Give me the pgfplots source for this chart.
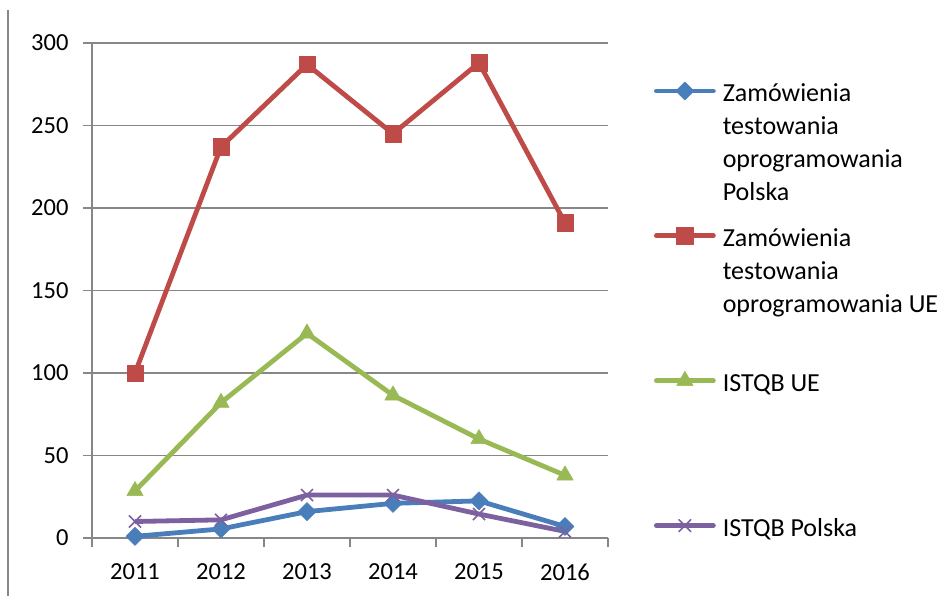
\documentclass[border=0pt]{standalone}
\usepackage{fontspec}
\setmainfont{Carlito}
\usepackage{pgfplots}
\pgfplotsset{compat=1.18}
\definecolor{cblue}{HTML}{4A7EBB}
\definecolor{cred}{HTML}{BE4B48}
\definecolor{cgreen}{HTML}{98B954}
\definecolor{cpurple}{HTML}{7D60A0}
\definecolor{cgrid}{HTML}{878787}
\newcommand{\lgtext}[1]{\parbox[t]{260bp}{\fontsize{26bp}{32.7bp}\selectfont\raggedright\strut #1}}
\begin{document}
\begin{tikzpicture}
\useasboundingbox (0,0) rectangle (949bp,596bp);
\draw[cgrid, line width=1.5bp] (8bp,0) -- (8bp,586bp);
\begin{axis}[
  at={(92bp,58bp)}, anchor=south west,
  scale only axis, width=516bp, height=495bp,
  xmin=-0.5, xmax=5.5, ymin=0, ymax=300,
  clip=false,
  axis lines*=left,
  axis line style={cgrid, line width=1.5bp},
  xtick={0,...,5}, xticklabels={2011,2012,2013,2014,2015,2016},
  minor xtick={-0.5,0.5,...,5.5},
  ytick={0,50,...,300},
  ymajorgrids,
  grid style={cgrid, line width=1.5bp},
  tick align=outside,
  major tick length=9bp, minor tick length=9bp,
  major x tick style={draw=none},
  minor x tick style={cgrid, line width=1.5bp},
  major y tick style={cgrid, line width=1.5bp},
  /pgf/number format/assume math mode=true,
  tick label style={font=\fontsize{24.5bp}{29bp}\selectfont, text=black},
  yticklabel style={xshift=-11bp},
  xticklabel style={yshift=-13bp},
  every axis plot/.append style={line width=4.8bp, line join=round},
  legend image code/.code={%
    \path[draw=none, fill=none] (0bp,23bp) -- (0bp,-120bp);
    \draw[mark repeat=2,mark phase=2,line cap=round,#1] plot coordinates {(0bp,11bp) (28.5bp,11bp) (57bp,11bp)};},
  legend style={at={(rel axis cs:1.0891,0.9311)}, anchor=north west, draw=none, fill=none,
    inner sep=0pt, outer sep=0pt, row sep=0pt, column sep=5bp,
    cells={anchor=base west, inner sep=0pt}},
]
\addplot[cblue, mark=square*, mark size=6.4bp, mark options={rotate=45, fill=cblue, line width=0.5bp}]
  coordinates {(0,1) (1,5.5) (2,16) (3,21) (4,22.5) (5,7)};
\addlegendentry{\lgtext{Zamówienia\\testowania\\oprogramowania\\Polska}}
\addplot[cred, mark=square*, mark size=8.2bp, mark options={fill=cred, line width=0.5bp}]
  coordinates {(0,100) (1,237) (2,287) (3,245) (4,288) (5,191)};
\addlegendentry{\lgtext{Zamówienia\\testowania\\oprogramowania UE}}
\addplot[cgreen, mark=triangle*, mark size=9.5bp, mark options={fill=cgreen, line width=0.5bp}]
  coordinates {(0,28.5) (1,82) (2,124) (3,86.5) (4,60) (5,38)};
\addlegendentry{\lgtext{ISTQB UE}}
\addplot[cpurple, mark=x, mark size=8.5bp, mark options={line width=1.6bp}]
  coordinates {(0,10) (1,11) (2,26) (3,26) (4,14.5) (5,4)};
\addlegendentry{\lgtext{ISTQB Polska}}
\end{axis}
\end{tikzpicture}
\end{document}
